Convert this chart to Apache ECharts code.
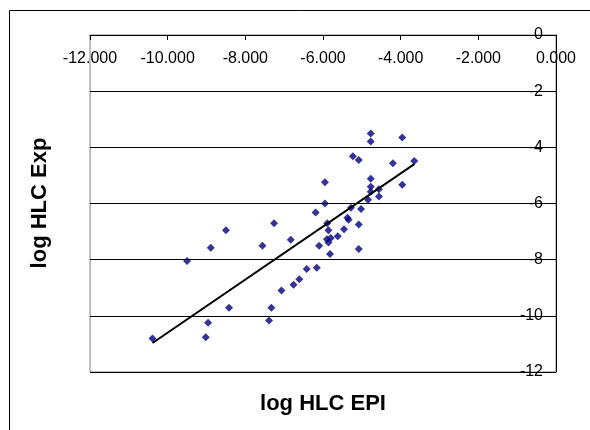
<!DOCTYPE html>
<html>
<head>
<meta charset="utf-8">
<script src="https://cdn.jsdelivr.net/npm/echarts@6/dist/echarts.min.js"></script>
<style>
  html, body { margin: 0; padding: 0; background: #fff; }
  #chart { width: 590px; height: 430px; }
</style>
</head>
<body>
<div id="chart"></div>
<script>
// log HLC EPI (x) and log HLC Exp (y)
const epi = [
  -10.39, -9.50, -8.96, -9.02, -8.89, -8.50, -8.42, -7.56, -7.26, -7.33,
  -7.39, -7.07, -6.83, -6.76, -6.61, -6.42, -6.16, -6.19, -6.10, -5.95,
  -5.95, -5.89, -5.86, -5.90, -5.86, -5.80, -5.82, -5.62, -5.46, -5.37,
  -5.34, -5.28, -5.23, -5.08, -5.08, -5.08, -5.02, -4.84, -4.77, -4.77,
  -4.77, -4.77, -4.77, -4.56, -4.56, -4.20, -3.96, -3.96, -3.65
]
const hlcExp = [
  -10.81, -8.05, -10.25, -10.76, -7.58, -6.95, -9.71, -7.50, -6.70, -9.71,
  -10.17, -9.10, -7.29, -8.89, -8.70, -8.33, -8.29, -6.32, -7.50, -5.24,
  -6.00, -6.70, -6.95, -7.27, -7.39, -7.23, -7.80, -7.17, -6.92, -6.51,
  -6.58, -6.15, -4.32, -4.45, -6.75, -7.62, -6.20, -5.87, -3.51, -3.79,
  -5.12, -5.40, -5.58, -5.49, -5.75, -4.57, -3.65, -5.33, -4.49
]
const xTicks = { min: -12, max: 0, step: 2 }
const yTicks = { min: -12, max: 0, step: 2 }

const points = epi.map((x, i) => [x, hlcExp[i]])

// linear trendline (least squares), over the x range of the data
const fitLine = () => {
  const n = epi.length
  let sx = 0, sy = 0, sxy = 0, sxx = 0
  for (let i = 0; i < n; i++) {
    sx += epi[i]
    sy += hlcExp[i]
    sxy += epi[i] * hlcExp[i]
    sxx += epi[i] * epi[i]
  }
  const slope = (n * sxy - sx * sy) / (n * sxx - sx * sx)
  const icpt = (sy - slope * sx) / n
  const x0 = Math.min(...epi)
  const x1 = Math.max(...epi)
  return [[x0, slope * x0 + icpt], [x1, slope * x1 + icpt]]
}

const font = 'Liberation Sans, Arial, sans-serif'
const chart = echarts.init(document.getElementById('chart'))
chart.setOption({
  animation: false,
  grid: {
    left: 90, right: 34, top: 35, bottom: 58,
    show: true, borderColor: '#808080', borderWidth: 1
  },
  xAxis: {
    type: 'value',
    position: 'top',
    min: xTicks.min, max: xTicks.max, interval: xTicks.step,
    axisLine: { show: true, onZero: false, lineStyle: { color: '#000', width: 1 } },
    axisTick: { show: true, inside: true, length: 5, lineStyle: { color: '#000' } },
    axisLabel: {
      inside: true, margin: 16, color: '#000', fontSize: 16, fontFamily: font,
      formatter: v => v.toFixed(3)
    },
    splitLine: { show: false }
  },
  yAxis: {
    type: 'value',
    position: 'right',
    min: yTicks.min, max: yTicks.max, interval: yTicks.step,
    axisLine: { show: true, onZero: false, lineStyle: { color: '#000', width: 1 } },
    axisTick: { show: true, inside: true, length: 5, lineStyle: { color: '#000' } },
    axisLabel: { inside: true, margin: 13, color: '#000', fontSize: 16, fontFamily: font },
    splitLine: { show: true, lineStyle: { color: '#000', width: 1 } }
  },
  series: [
    {
      type: 'scatter',
      data: points,
      symbol: 'diamond',
      symbolSize: 8,
      itemStyle: { color: '#000080' },
      z: 3
    },
    {
      type: 'line',
      data: fitLine(),
      symbol: 'none',
      lineStyle: { color: '#000', width: 2 },
      z: 4
    }
  ],
  graphic: [
    {
      type: 'rect',
      shape: { x: 9.5, y: 10.5, width: 640, height: 480 },
      style: { fill: 'none', stroke: '#000', lineWidth: 1 }
    },
    {
      type: 'text',
      x: 323, y: 404,
      style: {
        text: 'log HLC EPI', fill: '#000', font: 'bold 22px ' + font,
        align: 'center', verticalAlign: 'middle'
      }
    },
    {
      type: 'text',
      x: 40, y: 203,
      rotation: Math.PI / 2,
      style: {
        text: 'log HLC Exp', fill: '#000', font: 'bold 22px ' + font,
        align: 'center', verticalAlign: 'middle'
      }
    }
  ]
})
</script>
</body>
</html>
